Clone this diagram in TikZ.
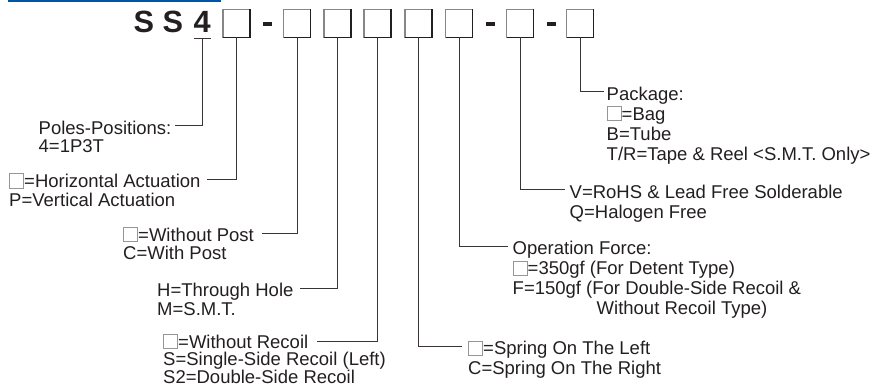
\documentclass[tikz,border=0pt]{standalone}
\usepackage{fontspec}
\setmainfont{Liberation Sans}
\usetikzlibrary{calc}
\definecolor{barblue}{RGB}{0,84,166}
\definecolor{ink}{RGB}{35,31,32}
\definecolor{boxgray}{RGB}{135,135,135}
\definecolor{sqgray}{RGB}{150,150,150}
\newcommand{\emptysq}{\textcolor{sqgray}{\fboxsep0pt\fboxrule0.8pt\fbox{\rule{0pt}{13.4pt}\rule{13.4pt}{0pt}}}}
\newcommand{\lblstrut}{\rule{0pt}{15pt}}

\begin{document}
\begin{tikzpicture}[x=1pt,y=-1pt,
  code/.style={rectangle,draw=boxgray,line width=1.2pt,outer sep=0pt,
               minimum width=27pt,minimum height=28pt,inner sep=0pt},
  dashmark/.style={rectangle,fill=ink,minimum width=9pt,minimum height=4pt,inner sep=0pt},
  big/.style={anchor=base west,inner sep=0pt,text=ink,font=\fontsize{30.7}{32}\selectfont\bfseries},
  lblL/.style={anchor=north west,inner sep=0pt,align=left,text=ink,font=\fontsize{18.5}{18.5}\selectfont},
  lblR/.style={lblL,font=\fontsize{18.5}{20}\selectfont},
  lead/.style={draw=ink!90,line width=1pt}]
  \useasboundingbox (0,0) rectangle (874,387);
  \fill[barblue] (8,0) rectangle (221,2.5);

  \node[big]      (SS)  at (133.5,33)   {S S};
  \node[big]      (n4)  at (193.5,33)   {4};
  \node[code]     (b1)  at (236.5,23.5) {};
  \node[dashmark] (d1)  at (267.5,24)   {};
  \node[code]     (b2)  at (297,23.5)   {};
  \node[code]     (b3)  at (337.5,23.5) {};
  \node[code]     (b4)  at (377.5,23.5) {};
  \node[code]     (b5)  at (418.5,23.5) {};
  \node[code]     (b6)  at (459,23.5)   {};
  \node[dashmark] (d2)  at (490.5,24)   {};
  \node[code]     (b7)  at (520,23.5)   {};
  \node[dashmark] (d3)  at (551.5,24)   {};
  \node[code]     (b8)  at (580,23.5)   {};
  \foreach \i in {1,...,8}
    \draw[ink,line width=1.2pt] (b\i.north east) |- (b\i.south west);

  \node[lblL] (pp) at (38.5,119)  {\lblstrut Poles-Positions:\\4=1P3T};
  \node[lblL] (ha) at (9,172.5)   {\lblstrut\emptysq=Horizontal Actuation\\P=Vertical Actuation};
  \node[lblL] (wp) at (123,226)   {\lblstrut\emptysq=Without Post\\C=With Post};
  \node[lblL] (th) at (157,281.5) {\lblstrut H=Through Hole\\M=S.M.T.};
  \node[lblL,font=\fontsize{18.5}{17.5}\selectfont] (wr) at (163,333)
    {\lblstrut\emptysq=Without Recoil\\S=Single-Side Recoil (Left)\\S2=Double-Side Recoil};
  \node[lblR] (sp) at (468,339.5) {\lblstrut\emptysq=Spring On The Left\\C=Spring On The Right};
  \node[lblR] (of) at (512.5,239.5) {\lblstrut Operation Force:\\\emptysq=350gf (For Detent Type)\\F=150gf (For Double-Side Recoil \&\\\hspace*{84pt}Without Recoil Type)};
  \node[lblR] (vr) at (569.5,183) {\lblstrut V=RoHS \& Lead Free Solderable\\Q=Halogen Free};
  \node[lblR] (pk) at (606.5,85)  {\lblstrut Package:\\\emptysq=Bag\\B=Tube\\T/R=Tape \& Reel <S.M.T. Only>};

  \coordinate (ppe) at (175,126);
  \coordinate (hae) at (207,179.5);
  \coordinate (wpe) at (262,233);
  \coordinate (the) at (300,288.5);
  \coordinate (wre) at (317,341);
  \coordinate (spe) at (462,346.5);
  \coordinate (ofe) at (508,246.5);
  \coordinate (vre) at (565,190);
  \coordinate (pke) at (604,92);

  \begin{scope}[every path/.style={lead}]
    \draw ($(n4.south west)+(0,5)$) -- ($(n4.south east)+(0,5)$);
    \draw ($(n4.south)+(0,5)$) |- (ppe);
    \draw (b1.south) |- (hae);
    \draw (b2.south) |- (wpe);
    \draw (b3.south) |- (the);
    \draw (b4.south) |- (wre);
    \draw (b5.south) |- (spe);
    \draw (b6.south) |- (ofe);
    \draw (b7.south) |- (vre);
    \draw (b8.south) |- (pke);
  \end{scope}
\end{tikzpicture}
\end{document}
